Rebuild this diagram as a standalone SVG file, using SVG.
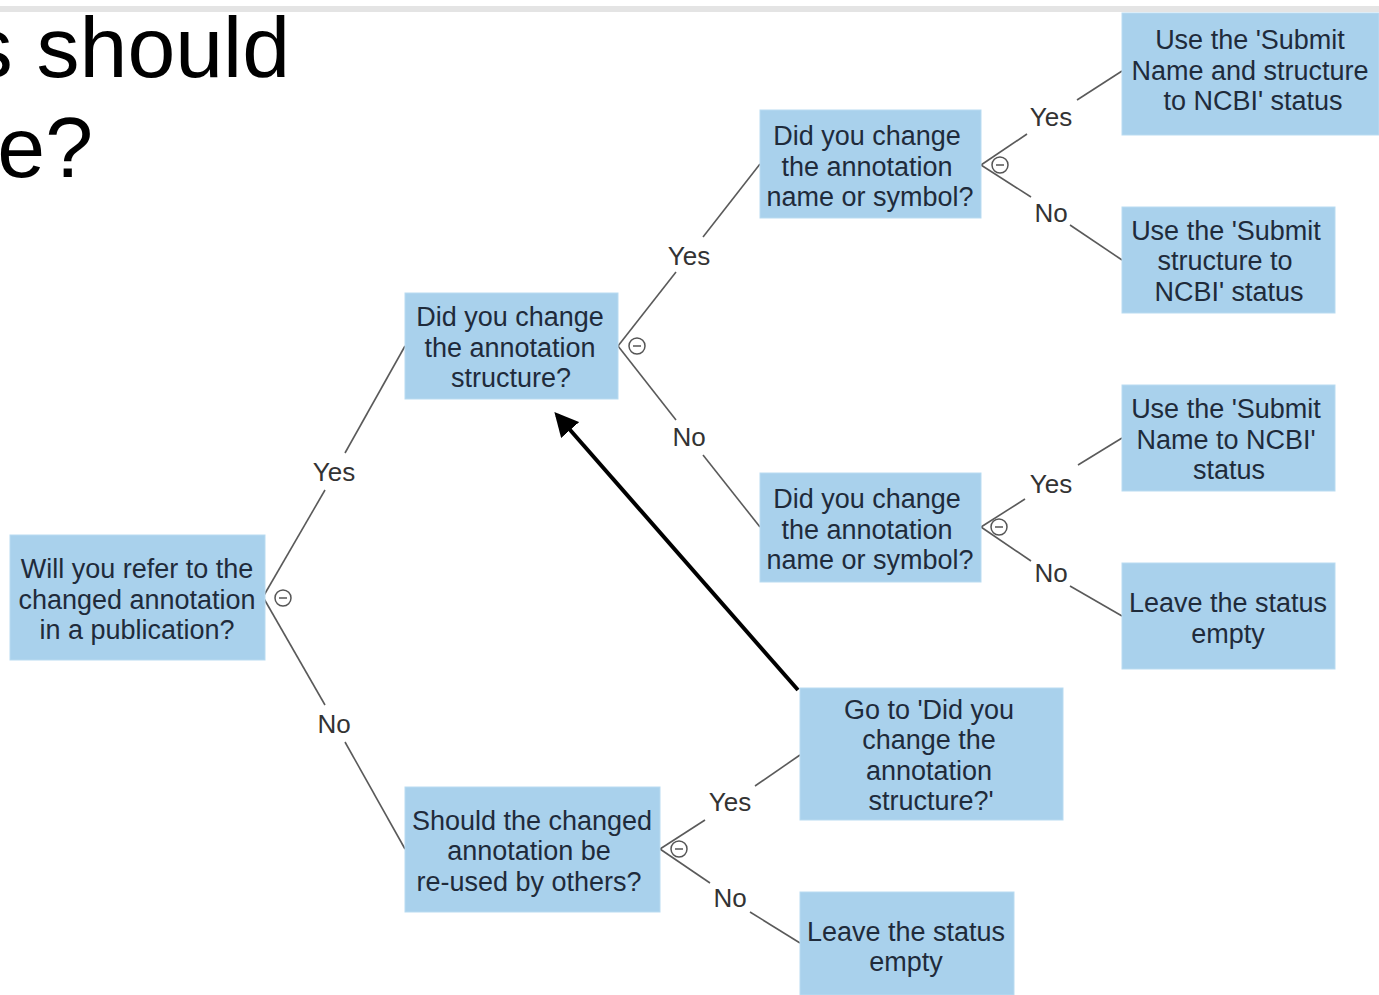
<svg xmlns="http://www.w3.org/2000/svg" width="1379" height="995" viewBox="0 0 1379 995">
<style>
.box{fill:#a9d1ec;stroke:#b9dbf1;stroke-width:1}
.bt{font-family:"Liberation Sans",Arial,sans-serif;font-size:27px;fill:#1f2b3b;text-anchor:middle}
.lbl{font-family:"Liberation Sans",Arial,sans-serif;font-size:26px;fill:#333;text-anchor:middle}
.ln{stroke:#5a5a5a;stroke-width:1.6;fill:none}
.tog{fill:#fff;stroke:#555;stroke-width:1.5}
.title{font-family:"Liberation Sans",Arial,sans-serif;font-size:86px;fill:#000}
</style>
<defs>
<marker id="ah" markerWidth="6" markerHeight="6" refX="5" refY="3" orient="auto" markerUnits="strokeWidth">
<path d="M0,0 L6,3 L0,6 z" fill="#000"/>
</marker>
<g id="toggle"><circle r="8" class="tog"/><line x1="-4" y1="0" x2="4" y2="0" stroke="#555" stroke-width="1.5"/></g>
</defs>
<rect width="1379" height="995" fill="#fff"/>
<rect x="0" y="6" width="1379" height="6" fill="#e4e4e4"/>
<text class="title" x="290" y="77" text-anchor="end">s should</text>
<text class="title" x="93" y="177" text-anchor="end">e?</text>

<g id="connectors">
<!-- n1 -->
<line class="ln" x1="263" y1="597" x2="325" y2="490"/>
<line class="ln" x1="345" y1="453" x2="405" y2="346"/>
<text class="lbl" x="334" y="481">Yes</text>
<line class="ln" x1="263" y1="597" x2="325" y2="705"/>
<line class="ln" x1="345" y1="742" x2="405" y2="849"/>
<text class="lbl" x="334" y="733">No</text>
<use href="#toggle" x="283" y="598"/>
<!-- n2 -->
<line class="ln" x1="618" y1="346" x2="676" y2="272"/>
<line class="ln" x1="703" y1="237" x2="760" y2="164"/>
<text class="lbl" x="689" y="265">Yes</text>
<line class="ln" x1="618" y1="346" x2="676" y2="420"/>
<line class="ln" x1="703" y1="455" x2="760" y2="527"/>
<text class="lbl" x="689" y="446">No</text>
<use href="#toggle" x="637" y="346"/>
<!-- n4 -->
<line class="ln" x1="981" y1="165" x2="1027" y2="134"/>
<line class="ln" x1="1077" y1="100" x2="1122" y2="71"/>
<text class="lbl" x="1051" y="126">Yes</text>
<line class="ln" x1="981" y1="165" x2="1031" y2="197"/>
<line class="ln" x1="1070" y1="225" x2="1122" y2="260"/>
<text class="lbl" x="1051" y="222">No</text>
<use href="#toggle" x="1000" y="165"/>
<!-- n5 -->
<line class="ln" x1="981" y1="527" x2="1025" y2="499"/>
<line class="ln" x1="1078" y1="465" x2="1122" y2="438"/>
<text class="lbl" x="1051" y="493">Yes</text>
<line class="ln" x1="981" y1="527" x2="1031" y2="561"/>
<line class="ln" x1="1070" y1="586" x2="1122" y2="616"/>
<text class="lbl" x="1051" y="582">No</text>
<use href="#toggle" x="999" y="527"/>
<!-- n3 -->
<line class="ln" x1="660" y1="849" x2="705" y2="820"/>
<line class="ln" x1="755" y1="786" x2="800" y2="755"/>
<text class="lbl" x="730" y="811">Yes</text>
<line class="ln" x1="660" y1="849" x2="710" y2="883"/>
<line class="ln" x1="750" y1="912" x2="800" y2="943"/>
<text class="lbl" x="730" y="907">No</text>
<use href="#toggle" x="679" y="849"/>
<!-- arrow -->
<line x1="798" y1="690" x2="557" y2="415" stroke="#000" stroke-width="4" marker-end="url(#ah)"/>
</g>

<g id="n1"><rect class="box" x="10" y="535" width="255" height="125"/>
<text class="bt" x="137" y="578">Will you refer to the</text><text class="bt" x="137" y="609">changed annotation</text><text class="bt" x="137" y="639">in a publication?</text></g>

<g id="n2"><rect class="box" x="405" y="293" width="213" height="106"/>
<text class="bt" x="510" y="326">Did you change</text><text class="bt" x="510" y="357">the annotation</text><text class="bt" x="511" y="387">structure?</text></g>

<g id="n3"><rect class="box" x="405" y="787" width="255" height="125"/>
<text class="bt" x="532" y="830">Should the changed</text><text class="bt" x="529" y="860">annotation be</text><text class="bt" x="529" y="891">re-used by others?</text></g>

<g id="n4"><rect class="box" x="760" y="110" width="221" height="108"/>
<text class="bt" x="867" y="145">Did you change</text><text class="bt" x="867" y="176">the annotation</text><text class="bt" x="870" y="206">name or symbol?</text></g>

<g id="n5"><rect class="box" x="760" y="473" width="221" height="109"/>
<text class="bt" x="867" y="508">Did you change</text><text class="bt" x="867" y="539">the annotation</text><text class="bt" x="870" y="569">name or symbol?</text></g>

<g id="n6"><rect class="box" x="800" y="688" width="263" height="132"/>
<text class="bt" x="929" y="719">Go to 'Did you</text><text class="bt" x="929" y="749">change the</text><text class="bt" x="929" y="780">annotation</text><text class="bt" x="931" y="810">structure?'</text></g>

<g id="n7"><rect class="box" x="800" y="892" width="214" height="103"/>
<text class="bt" x="906" y="941">Leave the status</text><text class="bt" x="906" y="971">empty</text></g>

<g id="n8"><rect class="box" x="1122" y="13" width="257" height="122"/>
<text class="bt" x="1250" y="49">Use the 'Submit</text><text class="bt" x="1250" y="80">Name and structure</text><text class="bt" x="1253" y="110">to NCBI' status</text></g>

<g id="n9"><rect class="box" x="1122" y="207" width="213" height="106"/>
<text class="bt" x="1226" y="240">Use the 'Submit</text><text class="bt" x="1225" y="270">structure to</text><text class="bt" x="1229" y="301">NCBI' status</text></g>

<g id="n10"><rect class="box" x="1122" y="385" width="213" height="106"/>
<text class="bt" x="1226" y="418">Use the 'Submit</text><text class="bt" x="1226" y="449">Name to NCBI'</text><text class="bt" x="1229" y="479">status</text></g>

<g id="n11"><rect class="box" x="1122" y="563" width="213" height="106"/>
<text class="bt" x="1228" y="612">Leave the status</text><text class="bt" x="1228" y="643">empty</text></g>
</svg>
